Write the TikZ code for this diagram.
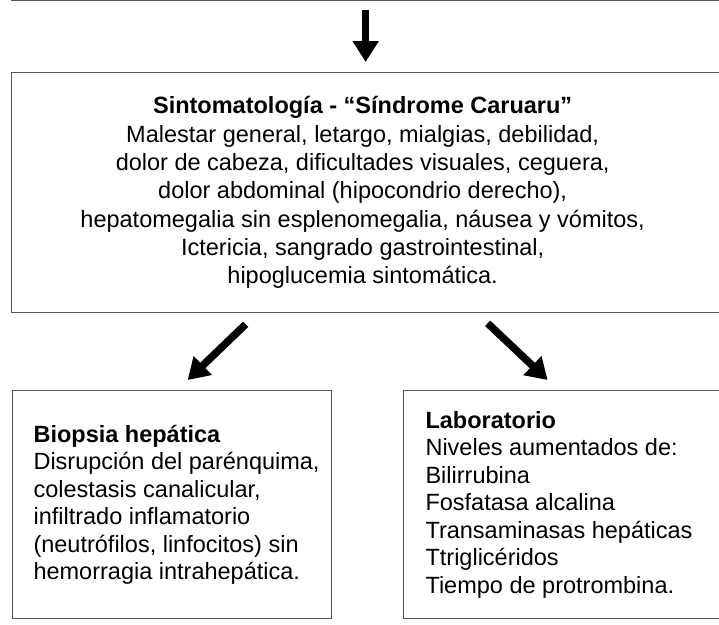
\documentclass[tikz,border=0pt]{standalone}
\usepackage{fontspec}
\setmainfont{Liberation Sans}
\definecolor{colborder}{RGB}{85,85,85}
\usetikzlibrary{
	arrows.meta,
	positioning
}
\tikzset{
	flowbox/.style={draw=colborder, line width=1.3pt, rectangle, inner sep=0pt},
	flowarrow/.style={line width=7.5pt, -{Triangle[width=25pt, length=21pt]}},
	maintext/.style={align=center, font=\fontsize{23.5}{28.3}\selectfont},
	sidetext/.style={align=left, font=\fontsize{23.5}{27.5}\selectfont}
}

\begin{document}
\begin{tikzpicture}[x=1pt, y=-1pt]
	\useasboundingbox (0,0) rectangle (719,624);
	\clip (0,0) rectangle (719,624);

	\node[flowbox, minimum width=712pt, minimum height=60pt, anchor=south west] (prev) at (11,1) {};
	\node[flowbox, minimum width=712pt, minimum height=240pt, anchor=north west] (sinto) at (11,72) {};
	\node[flowbox, minimum width=319pt, minimum height=228pt, anchor=north west] (biopsia) at (11.5,390) {};
	\node[flowbox, minimum width=340pt, minimum height=228pt, anchor=north west] (lab) at (403,390) {};

	\node[maintext] (sintotext) at ([xshift=-5pt]sinto.center) {%
		\textbf{Sintomatología - “Síndrome Caruaru”}\\
		Malestar general, letargo, mialgias, debilidad,\\
		dolor de cabeza, dificultades visuales, ceguera,\\
		dolor abdominal (hipocondrio derecho),\\
		hepatomegalia sin esplenomegalia, náusea y vómitos,\\
		Ictericia, sangrado gastrointestinal,\\
		hipoglucemia sintomática.};
	\node[sidetext, anchor=west] (biopsiatext) at ([xshift=18.5pt]biopsia.west) {%
		\textbf{Biopsia hepática}\\
		Disrupción del parénquima,\\
		colestasis canalicular,\\
		infiltrado inflamatorio\\
		(neutrófilos, linfocitos) sin\\
		hemorragia intrahepática.};
	\node[sidetext, anchor=west] (labtext) at ([xshift=19pt]lab.west) {%
		\textbf{Laboratorio}\\
		Niveles aumentados de:\\
		Bilirrubina\\
		Fosfatasa alcalina\\
		Transaminasas hepáticas\\
		Ttriglicéridos\\
		Tiempo de protrombina.};

	\draw[flowarrow, shorten <=9pt, shorten >=10pt] ([xshift=-2pt]prev.south) -- ([xshift=-2pt]sinto.north);
	\draw[flowarrow] ([xshift=-122pt, yshift=-11pt]sinto.south) -- ([xshift=16pt, yshift=10pt]biopsia.north);
	\draw[flowarrow] ([xshift=120pt, yshift=-10pt]sinto.south) -- ([xshift=-26pt, yshift=10pt]lab.north);
\end{tikzpicture}
\end{document}
